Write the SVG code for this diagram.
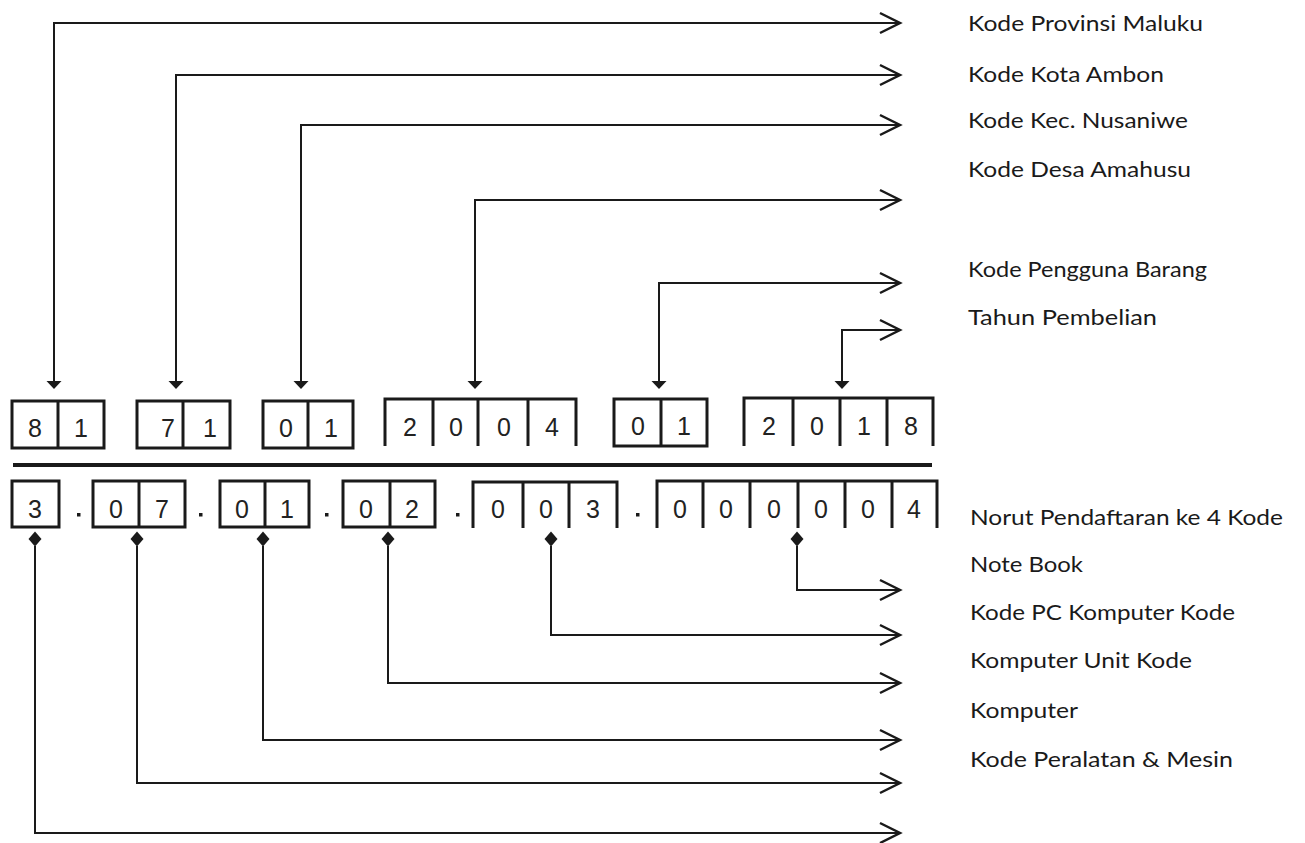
<svg xmlns="http://www.w3.org/2000/svg" xmlns:xlink="http://www.w3.org/1999/xlink" width="1305" height="843" viewBox="0 0 1305 843">
<style>
.ln{fill:none;stroke:#1a1a1a;stroke-width:2}
.bx{fill:none;stroke:#1a1a1a;stroke-width:3}
.dg{font-family:"Liberation Sans",Arial,sans-serif;font-size:25px;fill:#222;text-anchor:middle}
.lb{font-family:Lato,"Open Sans",sans-serif;font-size:22px;fill:#1a1a1a}
.mk{fill:#1a1a1a}
</style>
<defs>
<marker id="ah" markerUnits="userSpaceOnUse" markerWidth="26" markerHeight="26" refX="23" refY="13" orient="auto" overflow="visible">
<path d="M3,3 L23,13 L3,23" fill="none" stroke="#1a1a1a" stroke-width="2.5" stroke-linejoin="miter"/>
</marker>
<path id="tri" d="M-7.5,0 L7.5,0 L0,8 Z"/>
<path id="dia" d="M0,-7.5 L6.5,0 L0,7.5 L-6.5,0 Z"/>
</defs>
<rect width="1305" height="843" fill="#ffffff"/>

<g id="connectors">
<path class="ln" marker-end="url(#ah)" d="M54,381 V23 H900"/>
<path class="ln" marker-end="url(#ah)" d="M176,381 V75 H900"/>
<path class="ln" marker-end="url(#ah)" d="M301,381 V125 H900"/>
<path class="ln" marker-end="url(#ah)" d="M475,381 V200 H900"/>
<path class="ln" marker-end="url(#ah)" d="M659,381 V283 H900"/>
<path class="ln" marker-end="url(#ah)" d="M842,381 V330 H900"/>
<use href="#tri" class="mk" x="54" y="381"/>
<use href="#tri" class="mk" x="176" y="381"/>
<use href="#tri" class="mk" x="301" y="381"/>
<use href="#tri" class="mk" x="475" y="381"/>
<use href="#tri" class="mk" x="659" y="381"/>
<use href="#tri" class="mk" x="842" y="381"/>

<path class="ln" marker-end="url(#ah)" d="M797,546 V590 H900"/>
<path class="ln" marker-end="url(#ah)" d="M551,546 V635 H900"/>
<path class="ln" marker-end="url(#ah)" d="M388,546 V683 H900"/>
<path class="ln" marker-end="url(#ah)" d="M263,546 V740 H900"/>
<path class="ln" marker-end="url(#ah)" d="M137,546 V783 H900"/>
<path class="ln" marker-end="url(#ah)" d="M35,546 V833 H900"/>
<use href="#dia" class="mk" x="797" y="539"/>
<use href="#dia" class="mk" x="551" y="539"/>
<use href="#dia" class="mk" x="388" y="539"/>
<use href="#dia" class="mk" x="263" y="539"/>
<use href="#dia" class="mk" x="137" y="539"/>
<use href="#dia" class="mk" x="35" y="539"/>
</g>

<g id="top-81">
<rect class="bx" x="12" y="401" width="92" height="47"/>
<line class="bx" x1="58" y1="401" x2="58" y2="448"/>
<text class="dg" x="35" y="437">8</text>
<text class="dg" x="81" y="437">1</text>
</g>
<g id="top-71">
<rect class="bx" x="137" y="401" width="93" height="47" stroke-width="2.5"/>
<line class="bx" x1="183" y1="401" x2="183" y2="448" stroke-width="2.5"/>
<text class="dg" x="168" y="437" font-size="21">7</text>
<text class="dg" x="210" y="437" font-size="16">1</text>
</g>
<g id="top-01a">
<rect class="bx" x="263" y="401" width="90" height="47"/>
<line class="bx" x1="308" y1="401" x2="308" y2="448"/>
<text class="dg" x="286" y="437">0</text>
<text class="dg" x="331" y="437">1</text>
</g>
<g id="top-2004">
<path class="bx" d="M385,446 V399 H576 V446 M433,399 V446 M478,399 V446 M528,399 V446"/>
<text class="dg" x="410" y="436">2</text>
<text class="dg" x="456" y="436">0</text>
<text class="dg" x="504" y="436">0</text>
<text class="dg" x="552" y="436">4</text>
</g>
<g id="top-01b">
<rect class="bx" x="614" y="399" width="93" height="47"/>
<line class="bx" x1="661" y1="399" x2="661" y2="446"/>
<text class="dg" x="638" y="435">0</text>
<text class="dg" x="684" y="435">1</text>
</g>
<g id="top-2018">
<path class="bx" d="M744,446 V398 H933 V446 M793,398 V446 M840,398 V446 M887,398 V446"/>
<text class="dg" x="769" y="435">2</text>
<text class="dg" x="817" y="435">0</text>
<text class="dg" x="864" y="435">1</text>
<text class="dg" x="911" y="435">8</text>
</g>

<g id="separator">
<line x1="13" y1="465" x2="932" y2="465" stroke="#1a1a1a" stroke-width="4"/>
</g>

<g id="bot-3">
<rect class="bx" x="12" y="481" width="47" height="46"/>
<text class="dg" x="35" y="518">3</text>
</g>
<g id="bot-07">
<rect class="bx" x="93" y="481" width="92" height="46"/>
<line class="bx" x1="139" y1="481" x2="139" y2="527"/>
<text class="dg" x="116" y="518">0</text>
<text class="dg" x="162" y="518">7</text>
</g>
<g id="bot-01">
<rect class="bx" x="220" y="481" width="89" height="46"/>
<line class="bx" x1="265" y1="481" x2="265" y2="527"/>
<text class="dg" x="242" y="518">0</text>
<text class="dg" x="287" y="518">1</text>
</g>
<g id="bot-02">
<rect class="bx" x="343" y="481" width="92" height="46"/>
<line class="bx" x1="390" y1="481" x2="390" y2="527"/>
<text class="dg" x="366" y="518">0</text>
<text class="dg" x="412" y="518">2</text>
</g>
<g id="bot-003">
<path class="bx" d="M473,528 V482 H617 V528 M523,482 V528 M569,482 V528"/>
<text class="dg" x="498" y="518">0</text>
<text class="dg" x="546" y="518">0</text>
<text class="dg" x="593" y="518">3</text>
</g>
<g id="bot-000004">
<path class="bx" d="M657,528 V481 H937 V528 M703,481 V528 M750,481 V528 M798,481 V528 M845,481 V528 M892,481 V528"/>
<text class="dg" x="680" y="518">0</text>
<text class="dg" x="726" y="518">0</text>
<text class="dg" x="774" y="518">0</text>
<text class="dg" x="821" y="518">0</text>
<text class="dg" x="868" y="518">0</text>
<text class="dg" x="914" y="518">4</text>
</g>
<g id="dots" class="mk">
<rect x="77" y="513" width="3.5" height="3.5"/>
<rect x="199" y="513" width="3.5" height="3.5"/>
<rect x="325" y="513" width="3.5" height="3.5"/>
<rect x="456" y="513" width="3.5" height="3.5"/>
<rect x="636" y="513" width="3.5" height="3.5"/>
</g>

<g id="labels">
<text class="lb" x="968" y="31" textLength="235" lengthAdjust="spacingAndGlyphs">Kode Provinsi Maluku</text>
<text class="lb" x="968" y="82" textLength="196" lengthAdjust="spacingAndGlyphs">Kode Kota Ambon</text>
<text class="lb" x="968" y="128" textLength="220" lengthAdjust="spacingAndGlyphs">Kode Kec. Nusaniwe</text>
<text class="lb" x="968" y="177" textLength="223" lengthAdjust="spacingAndGlyphs">Kode Desa Amahusu</text>
<text class="lb" x="968" y="277" textLength="239" lengthAdjust="spacingAndGlyphs">Kode Pengguna Barang</text>
<text class="lb" x="968" y="325" textLength="189" lengthAdjust="spacingAndGlyphs">Tahun Pembelian</text>
<text class="lb" x="970" y="525" textLength="313" lengthAdjust="spacingAndGlyphs">Norut Pendaftaran ke 4 Kode</text>
<text class="lb" x="970" y="572" textLength="113" lengthAdjust="spacingAndGlyphs">Note Book</text>
<text class="lb" x="970" y="620" textLength="265" lengthAdjust="spacingAndGlyphs">Kode PC Komputer Kode</text>
<text class="lb" x="970" y="668" textLength="222" lengthAdjust="spacingAndGlyphs">Komputer Unit Kode</text>
<text class="lb" x="970" y="718" textLength="108" lengthAdjust="spacingAndGlyphs">Komputer</text>
<text class="lb" x="970" y="767" textLength="263" lengthAdjust="spacingAndGlyphs">Kode Peralatan &amp; Mesin</text>
</g>
</svg>
